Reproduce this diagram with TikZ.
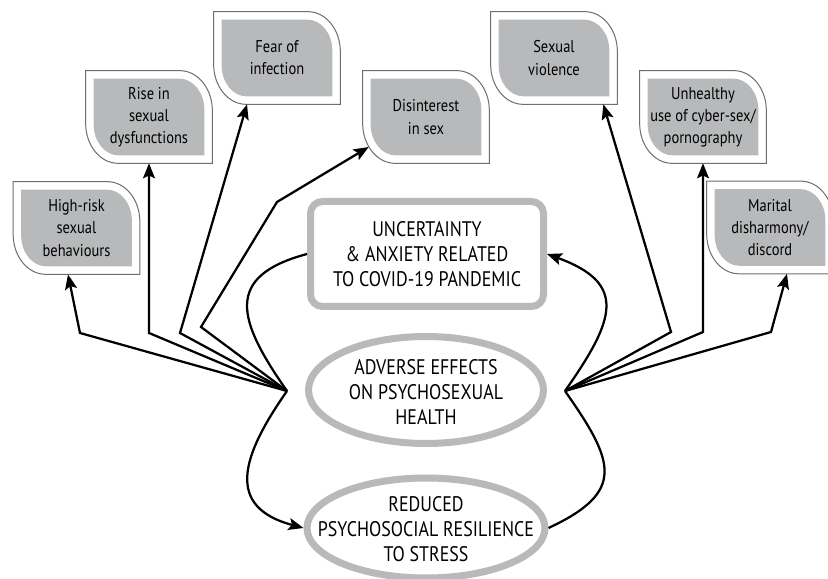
\documentclass[tikz,border=0pt]{standalone}
\usepackage{fontspec}
\setmainfont[FakeStretch=0.85]{PT Sans}
\usetikzlibrary{shapes,arrows.meta,positioning,backgrounds}
\definecolor{leafgray}{RGB}{184,185,187}
\definecolor{edgegray}{RGB}{110,110,110}

\begin{document}
\begin{tikzpicture}[
    leaf/.style={
        minimum width=2.52cm, minimum height=1.84cm,
        align=center, inner sep=0pt,
        font=\fontsize{9.7}{12.6}\selectfont
    },
    ring/.style={
        draw=leafgray, line width=0.14cm, fill=white
    },
    big text/.style={
        align=center,
        font=\fontsize{12}{14.4}\selectfont
    },
    link/.style={line width=0.045cm},
    arr/.style={
        link,
        -{Stealth[length=0.3cm,width=0.24cm,inset=0.06cm]}
    }
]

% Page frame
\useasboundingbox (0,0) rectangle (16.56,-11.58);

% Outcome boxes
\node[leaf] (hrisk) at (1.53,-4.56) {High-risk\\sexual\\behaviours};
\node[leaf] (rise) at (2.98,-2.34) {Rise in\\sexual\\dysfunctions};
\node[leaf] (fear) at (5.54,-1.16) {Fear of\\infection};
\node[leaf] (disint) at (8.52,-2.34) {Disinterest\\in sex};
\node[leaf] (sviol) at (11.08,-1.16) {Sexual\\violence};
\node[leaf] (cyber) at (14.06,-2.34) {Unhealthy\\use of cyber-sex/\\pornography};
\node[leaf] (marital) at (15.40,-4.55) {Marital\\disharmony/\\discord};

% Leaf shaped backgrounds
\begin{scope}[on background layer]
\foreach \n in {hrisk,rise,fear,disint,sviol,cyber,marital} {
    \draw[draw=edgegray, line width=0.02cm, fill=white]
        (\n.north west) -- ([xshift=-0.65cm]\n.north east)
        arc[start angle=90, end angle=0, x radius=0.65cm, y radius=0.8cm]
        -- (\n.south east) -- ([xshift=0.65cm]\n.south west)
        arc[start angle=270, end angle=180, x radius=0.65cm, y radius=0.8cm]
        -- cycle;
    \fill[leafgray]
        ([shift={(0.16,-0.16)}]\n.north west) -- ([shift={(-0.66,-0.16)}]\n.north east)
        arc[start angle=90, end angle=0, x radius=0.5cm, y radius=0.62cm]
        -- ([shift={(-0.16,0.16)}]\n.south east) -- ([shift={(0.66,0.16)}]\n.south west)
        arc[start angle=270, end angle=180, x radius=0.5cm, y radius=0.62cm]
        -- cycle;
}
\end{scope}

% Central cycle
\node[ring, big text, rounded corners=0.24cm,
      minimum width=4.66cm, minimum height=2.1cm] (unc) at (8.54,-5.08)
    {UNCERTAINTY\\\& ANXIETY RELATED\\TO COVID-19 PANDEMIC};
\node[ring, ellipse, inner sep=0pt,
      minimum width=4.7cm, minimum height=2.14cm] (adv) at (8.52,-7.8) {};
\node[big text] (advtxt) at (8.52,-7.84) {ADVERSE EFFECTS\\ON PSYCHOSEXUAL\\HEALTH};
\node[ring, ellipse, inner sep=0pt,
      minimum width=4.76cm, minimum height=2.0cm] (red) at (8.52,-10.56) {};
\node[big text] (redtxt) at (8.52,-10.58) {REDUCED\\PSYCHOSOCIAL RESILIENCE\\TO STRESS};

% Hubs
\coordinate (lhub) at (5.74,-7.82);
\coordinate (rhub) at (11.30,-7.82);

% Curved links
\draw[link] (unc.west) to[out=195, in=125, looseness=1.6] (lhub);
\draw[arr] (lhub) to[out=235, in=165, looseness=1.5] (red.west);
\draw[link] (red.east) to[out=25, in=-55, looseness=1.6] (rhub);
\draw[arr] (rhub) to[out=55, in=-20, looseness=1.6] (unc.east);

% Arrows to the left boxes
\draw[arr] (lhub) -- (1.60,-6.66) -- ([xshift=-0.17cm]hrisk.south);
\draw[arr] (lhub) -- (2.98,-6.66) -- (rise.south);
\draw[arr] (lhub) -- (3.60,-6.66) -- ([xshift=-0.6cm]fear.south);
\draw[arr] (lhub) -- (4.02,-6.54) -- (5.54,-4.04) -- ([shift={(0.12,-0.6)}]disint.west);

% Arrows to the right boxes
\draw[arr] (rhub) -- (13.42,-6.64) -- ([xshift=-0.28cm]sviol.south east);
\draw[arr] (rhub) -- (14.06,-6.64) -- (cyber.south);
\draw[arr] (rhub) -- (15.42,-6.64) -- ([xshift=0.34cm]marital.south);

\end{tikzpicture}
\end{document}
